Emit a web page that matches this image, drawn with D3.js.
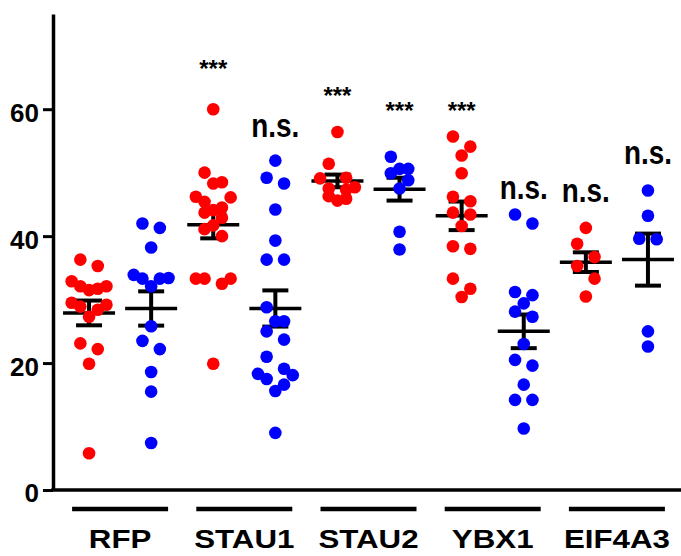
<!DOCTYPE html>
<html><head><meta charset="utf-8">
<script src="https://cdn.jsdelivr.net/npm/d3@7"></script>
<style>
body{margin:0;background:#fff}
svg{display:block}
text{font-family:"Liberation Sans",Arial,Helvetica,sans-serif;font-weight:bold;fill:#000}
</style>
</head><body>
<svg id="chart" width="681" height="556"></svg>
<script>
// ---------- data ----------
const groups = ["RFP", "STAU1", "STAU2", "YBX1", "EIF4A3"];
const seriesNames = ["red", "blue"];
const seriesColors = ["#ff0000", "#0000ff"];

const rfpRed    = [36.3, 35.3, 32.9, 32.1, 31.5, 31.7, 32.1, 29.2, 28.9, 29.5, 28.4, 27.3, 22.2, 23.1, 19.9, 5.8];
const rfpBlue   = [42.0, 41.3, 38.2, 33.3, 33.3, 33.4, 33.9, 32.1, 25.8, 23.5, 22.2, 18.6, 15.5, 7.4];
const stau1Red  = [60.0, 50.0, 48.3, 48.5, 46.1, 46.2, 45.4, 44.5, 43.7, 44.1, 42.9, 41.7, 41.1, 40.0, 33.3, 33.3, 32.5, 33.3, 19.9];
const stau1Blue = [51.9, 48.3, 49.2, 44.2, 39.3, 36.3, 36.3, 28.8, 26.6, 26.6, 25.0, 23.7, 21.0, 19.1, 18.1, 18.3, 17.5, 16.6, 15.6, 9.0];
const stau2Red  = [56.4, 51.4, 49.2, 49.1, 47.7, 47.5, 47.3, 46.3, 45.6, 45.9];
const stau2Blue = [52.5, 50.6, 49.9, 50.6, 48.8, 47.5, 40.7, 37.9];
const ybx1Red   = [55.7, 54.1, 52.7, 49.9, 46.2, 45.5, 43.4, 43.7, 41.6, 38.0, 38.4, 33.3, 31.7, 30.4];
const ybx1Blue  = [43.4, 42.0, 31.2, 30.7, 29.4, 28.1, 27.3, 23.0, 20.5, 19.6, 16.6, 14.2, 14.2, 9.7];
const eif4a3Red = [41.3, 38.8, 36.7, 35.3, 33.3, 30.5];
const eif4a3Blue= [47.2, 43.2, 39.6, 39.5, 25.0, 22.6];

const redValues  = [rfpRed, stau1Red, stau2Red, ybx1Red, eif4a3Red];
const blueValues = [rfpBlue, stau1Blue, stau2Blue, ybx1Blue, eif4a3Blue];

const redMeans  = [27.9, 41.8, 48.7, 43.2, 35.9];
const redSems   = [1.95, 2.15, 1.0, 2.25, 1.55];
const blueMeans = [28.6, 28.6, 47.4, 25.0, 36.3];
const blueSems  = [2.7, 2.85, 1.8, 2.65, 4.1];

const redMarks       = ["", "***", "***", "***", "n.s."];
const redMarkLevels  = [null, 65.0, 60.8, 58.4, 45.3];
const blueMarks      = ["", "n.s.", "***", "n.s.", "n.s."];
const blueMarkLevels = [null, 55.6, 58.4, 45.8, 51.3];

const yTicks = [0, 20, 40, 60];
const yMax = 75;

// ---------- layout ----------
const W = 681, H = 556;
const axisX = 53, plotTop = 14, plotBottom = 490;
const svg = d3.select("#chart");

const y = d3.scaleLinear().domain([0, yMax]).range([plotBottom, plotTop]);
const x = d3.scaleBand().domain(groups).range([58, 679]).paddingInner(0).paddingOuter(0);
const sub = d3.scalePoint().domain(seriesNames).range([0, x.bandwidth()]).padding(0.5);

const columns = [];
groups.forEach((g, i) => {
  columns.push({group: g, series: 0, values: redValues[i], mean: redMeans[i], sem: redSems[i], mark: redMarks[i], markLevel: redMarkLevels[i]});
  columns.push({group: g, series: 1, values: blueValues[i], mean: blueMeans[i], sem: blueSems[i], mark: blueMarks[i], markLevel: blueMarkLevels[i]});
});
const cx = c => x(c.group) + sub(seriesNames[c.series]);

// beeswarm-like row arrangement (Prism style)
const R = 6.3, step = 8.7, rowH = 14;
function swarm(values) {
  const sorted = values.slice().sort((a, b) => b - a);
  const rows = [];
  let cur = null;
  sorted.forEach(v => {
    if (cur && (y(v) - y(cur[0])) < rowH) cur.push(v);
    else { cur = [v]; rows.push(cur); }
  });
  const out = [];
  rows.forEach(row => {
    const n = row.length, m = Math.floor(n / 2);
    for (let j = 0; j < m; j++) {
      const lvl = m - j;
      out.push({v: row[2 * j], dx: -lvl * step});
      out.push({v: row[2 * j + 1], dx: lvl * step});
    }
    if (n % 2 === 1) out.push({v: row[n - 1], dx: 0});
  });
  return out;
}

// ---------- group bars & labels ----------
const gb = svg.append("g");
gb.selectAll("line").data(groups).join("line")
  .attr("x1", g => x(g) + x.bandwidth() / 2 - 48)
  .attr("x2", g => x(g) + x.bandwidth() / 2 + 48)
  .attr("y1", 509).attr("y2", 509)
  .attr("stroke", "#000").attr("stroke-width", 4.5);
gb.selectAll("text").data(groups).join("text")
  .attr("transform", g => `translate(${x(g) + x.bandwidth() / 2},548) scale(1.18,1)`)
  .attr("text-anchor", "middle")
  .style("font-size", "26.5px")
  .text(g => g);

// ---------- axes ----------
const yAxis = d3.axisLeft(y).tickValues(yTicks).tickSize(10).tickSizeOuter(0).tickPadding(4).tickFormat(d3.format("d"));
const ya = svg.append("g").attr("transform", `translate(${axisX},0)`).call(yAxis);
ya.select(".domain").attr("stroke", "#000").attr("stroke-width", 3.5);
ya.selectAll(".tick line").attr("stroke", "#000").attr("stroke-width", 3);
ya.selectAll(".tick text").attr("dy", "0.46em").style("font-size", "26px").style("font-family", '"Liberation Sans",Arial,sans-serif').style("font-weight", "bold").attr("fill", "#000");

svg.append("line")
  .attr("x1", axisX - 1.75).attr("x2", W)
  .attr("y1", y(0)).attr("y2", y(0))
  .attr("stroke", "#000").attr("stroke-width", 3.5);

// ---------- error bars ----------
const eb = svg.append("g");
columns.forEach(c => {
  const X = cx(c);
  eb.append("line").attr("x1", X).attr("x2", X).attr("y1", y(c.mean + c.sem)).attr("y2", y(c.mean - c.sem))
    .attr("stroke", "#000").attr("stroke-width", 4);
  [c.mean + c.sem, c.mean - c.sem].forEach(v => {
    eb.append("line").attr("x1", X - 13).attr("x2", X + 13).attr("y1", y(v)).attr("y2", y(v))
      .attr("stroke", "#000").attr("stroke-width", 4);
  });
  eb.append("line").attr("x1", X - 26).attr("x2", X + 26).attr("y1", y(c.mean)).attr("y2", y(c.mean))
    .attr("stroke", "#000").attr("stroke-width", 3.5);
});

// ---------- dots ----------
const dg = svg.append("g");
columns.forEach(c => {
  const X = cx(c);
  dg.selectAll(null).data(swarm(c.values)).join("circle")
    .attr("cx", d => X + d.dx)
    .attr("cy", d => y(d.v))
    .attr("r", R)
    .attr("fill", seriesColors[c.series]);
});

// ---------- significance marks ----------
const mg = svg.append("g");
columns.filter(c => c.mark).forEach(c => {
  const t = mg.append("text")
    .attr("text-anchor", "middle")
    .text(c.mark);
  if (c.mark === "n.s.") {
    t.attr("transform", `translate(${cx(c)},${y(c.markLevel)}) scale(0.82,1)`).style("font-size", "34px");
  } else {
    t.attr("transform", `translate(${cx(c)},${y(c.markLevel)})`).style("font-size", "24px");
  }
});
</script>
</body></html>
